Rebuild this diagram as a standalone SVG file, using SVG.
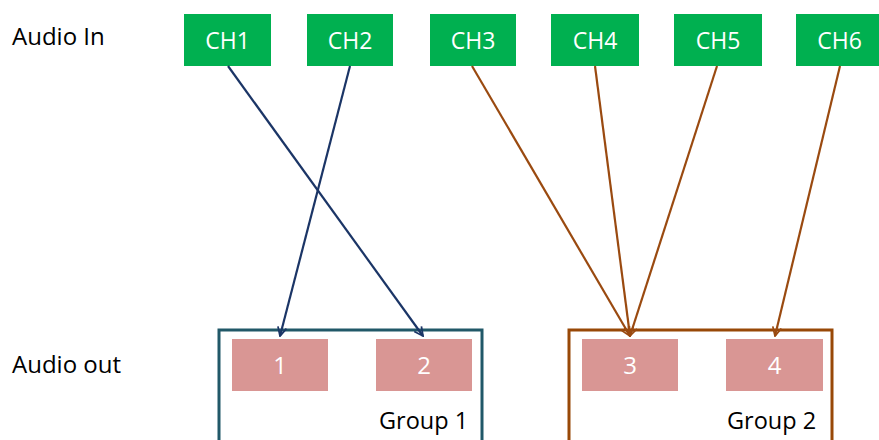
<svg xmlns="http://www.w3.org/2000/svg" width="879" height="440" viewBox="0 0 879 440">
<style>
.lbl{font-family:"Open Sans","Liberation Sans",sans-serif;font-size:24px;fill:#000}
.ch rect{fill:#00B050}
.ch text,.out text{font-family:"Open Sans","Liberation Sans",sans-serif;fill:#fff;text-anchor:middle}
.ch text{font-size:23px}
.out text{font-size:24px}
.out rect{fill:#D99694}
.grp{fill:none;stroke-width:3}
.gt{font-family:"Open Sans","Liberation Sans",sans-serif;font-size:23.5px;fill:#000}
.navy{stroke:#1B3566;stroke-width:2.2;fill:none}
.brown{stroke:#9A4A10;stroke-width:2.2;fill:none}
</style>
<defs>
<marker id="an" viewBox="0 0 10 10" refX="9" refY="5" markerWidth="5" markerHeight="5" orient="auto" markerUnits="strokeWidth">
<path d="M1,1 L9,5 L1,9" fill="none" stroke="#1B3566" stroke-width="1.6"/>
</marker>
<marker id="ab" viewBox="0 0 10 10" refX="9" refY="5" markerWidth="5" markerHeight="5" orient="auto" markerUnits="strokeWidth">
<path d="M1,1 L9,5 L1,9" fill="none" stroke="#9A4A10" stroke-width="1.6"/>
</marker>
</defs>
<rect width="879" height="440" fill="#fff"/>
<text class="lbl" x="12" y="45">Audio In</text>
<text class="lbl" x="12" y="373">Audio out</text>

<g id="group1"><rect class="grp" x="219" y="330" width="263" height="120" stroke="#215868"/><text class="gt" x="379" y="429">Group 1</text></g>
<g id="group2"><rect class="grp" x="569" y="330" width="263" height="120" stroke="#984807"/><text class="gt" x="727" y="429">Group 2</text></g>

<g id="ch1" class="ch"><rect x="184" y="14" width="87" height="52"/><text x="227.5" y="48.5">CH1</text></g>
<g id="ch2" class="ch"><rect x="307" y="14" width="86" height="52"/><text x="350" y="48.5">CH2</text></g>
<g id="ch3" class="ch"><rect x="430" y="14" width="86" height="52"/><text x="473" y="48.5">CH3</text></g>
<g id="ch4" class="ch"><rect x="551" y="14" width="88" height="52"/><text x="595" y="48.5">CH4</text></g>
<g id="ch5" class="ch"><rect x="674" y="14" width="88" height="52"/><text x="718" y="48.5">CH5</text></g>
<g id="ch6" class="ch"><rect x="796" y="14" width="87" height="52"/><text x="839.5" y="48.5">CH6</text></g>

<g id="out1" class="out"><rect x="232" y="339" width="96" height="52"/><text x="280" y="374">1</text></g>
<g id="out2" class="out"><rect x="376" y="339" width="96" height="52"/><text x="424" y="374">2</text></g>
<g id="out3" class="out"><rect x="582" y="339" width="96" height="52"/><text x="630" y="374">3</text></g>
<g id="out4" class="out"><rect x="726" y="339" width="97" height="52"/><text x="774.5" y="374">4</text></g>

<g id="connectors">
<line class="navy" x1="228" y1="66" x2="423" y2="336" marker-end="url(#an)"/>
<line class="navy" x1="350" y1="66" x2="280" y2="336" marker-end="url(#an)"/>
<line class="brown" x1="472" y1="66" x2="630" y2="336" marker-end="url(#ab)"/>
<line class="brown" x1="595" y1="66" x2="630" y2="336" marker-end="url(#ab)"/>
<line class="brown" x1="717" y1="66" x2="630" y2="336" marker-end="url(#ab)"/>
<line class="brown" x1="840" y1="66" x2="775" y2="336" marker-end="url(#ab)"/>
</g>
</svg>
